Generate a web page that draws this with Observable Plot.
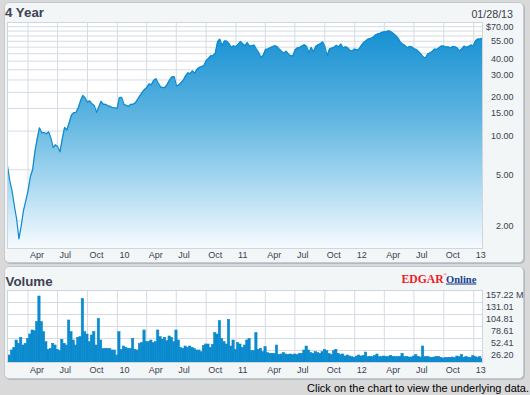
<!DOCTYPE html>
<html><head><meta charset="utf-8">
<script src="https://cdn.jsdelivr.net/npm/d3@7"></script>
<script src="https://cdn.jsdelivr.net/npm/@observablehq/plot@0.6"></script>
<style>
html,body{margin:0;padding:0;background:#d9d9d9;}
#page{position:relative;width:530px;height:395px;overflow:hidden;background:#d9d9d9;font-family:"Liberation Sans",Arial,sans-serif;}
.panel{position:absolute;background:#f3f6f6;border:1px solid #c3cad1;border-radius:5px;box-shadow:1px 1px 0 #b3b9c0;}
#pricePanel{left:4px;top:2px;width:518px;height:259px;}
#volPanel{left:4px;top:266px;width:518px;height:111px;}
.chart{position:absolute;left:0;}
#priceChart{top:0;}
#volChart{top:266px;}
#overlay{position:absolute;left:0;top:0;pointer-events:none;}
</style></head>
<body>
<svg width="0" height="0" style="position:absolute">
  <defs>
    <linearGradient id="pg" x1="0" y1="0" x2="0" y2="1">
      <stop offset="0" stop-color="#1590d2"/>
      <stop offset="0.4" stop-color="#5fb5e0"/>
      <stop offset="0.7" stop-color="#a8d8f0"/>
      <stop offset="1" stop-color="#f7fbfe"/>
    </linearGradient>
  </defs>
</svg>
<div id="page">
  <div class="panel" id="pricePanel"></div>
  <div class="panel" id="volPanel"></div>
  <div class="chart" id="priceChart"></div>
  <div class="chart" id="volChart"></div>
  <svg id="overlay" width="530" height="395">
    <text x="5" y="17" font-family="Liberation Sans, Arial, sans-serif" font-weight="bold" font-size="13.3" fill="#3d4354">4 Year</text>
    <text x="513" y="18" text-anchor="end" font-family="Liberation Sans, Arial, sans-serif" font-size="10.7" fill="#3a4050">01/28/13</text>
    <text x="5.5" y="286" font-family="Liberation Sans, Arial, sans-serif" font-weight="bold" font-size="13.3" fill="#3d4354">Volume</text>
    <text x="401.5" y="282.5" font-family="Liberation Serif, Times New Roman, serif" font-weight="bold" font-size="11.7" fill="#ee1c25">EDGAR</text>
    <text x="443.5" y="276" font-family="Liberation Serif, serif" font-size="4.5" fill="#ee1c25">®</text>
    <text x="446" y="282.5" font-family="Liberation Serif, Times New Roman, serif" font-weight="bold" font-size="10.5" fill="#1b3f8f" text-decoration="underline">Online</text>
    <text x="529" y="391.5" text-anchor="end" font-family="Liberation Sans, Arial, sans-serif" font-size="11" fill="#000">Click on the chart to view the underlying data.</text>
  </svg>
</div>
<script>
const startDate = "2009-01-28";
const endDate = "2013-01-28";

// weekly closing prices (USD)
const prices = [
  5.37, 4.10, 3.43, 2.62, 2.07, 1.45, 1.83, 2.40, 2.87, 3.43,
  4.41, 5.00, 6.90, 8.71, 10.6, 9.70, 9.75, 9.52, 9.87, 8.86,
  7.45, 7.82, 7.54, 6.90, 8.71, 10.7, 10.2, 11.6, 13.3, 13.9,
  13.95, 15.2, 17.2, 18.95, 18.1, 16.75, 17.2, 16.3, 15.85, 14.0,
  15.4, 17.05, 16.15, 16.15, 15.7, 15.55, 15.2, 15.2, 15.0, 18.2,
  18.3, 16.2, 15.85, 15.55, 16.15, 16.15, 16.6, 17.65, 18.8, 20.0,
  21.1, 21.8, 23.3, 22.9, 24.8, 25.6, 23.7, 22.1, 21.8, 21.9,
  23.2, 25.0, 26.4, 26.5, 22.5, 22.8, 23.8, 24.9, 26.9, 28.4,
  28.0, 29.4, 28.2, 30.3, 31.2, 31.8, 32.2, 35.2, 36.7, 38.5,
  38.6, 40.4, 49.5, 52.0, 46.1, 50.2, 50.2, 48.1, 44.8, 46.1,
  45.3, 47.2, 49.8, 47.8, 46.1, 48.9, 45.9, 46.1, 46.7, 43.5,
  40.8, 37.4, 38.9, 43.2, 43.5, 44.5, 45.3, 46.1, 45.6, 43.5,
  41.9, 40.4, 41.9, 39.9, 38.5, 38.5, 42.9, 44.5, 44.7, 45.9,
  47.0, 45.6, 40.8, 44.8, 41.4, 45.6, 47.0, 47.8, 49.5, 45.6,
  38.5, 43.5, 44.3, 44.8, 46.5, 45.1, 47.6, 44.3, 45.3, 44.5,
  42.4, 42.1, 43.5, 42.9, 43.5, 46.5, 49.0, 50.4, 52.0, 52.6,
  53.5, 55.6, 56.9, 57.6, 58.6, 59.3, 59.6, 60.3, 59.3, 57.6,
  55.6, 53.2, 49.5, 47.6, 46.5, 44.5, 45.6, 45.3, 43.7, 43.2,
  41.6, 39.9, 37.8, 36.9, 39.7, 40.6, 41.6, 43.5, 43.2, 44.5,
  45.9, 45.9, 45.1, 45.3, 44.3, 45.6, 45.3, 44.3, 42.1, 43.7,
  45.9, 44.8, 45.6, 46.7, 46.1, 50.4, 52.0, 52.0, 52.9
];

// weekly volume (millions of shares)
const volumes = [
  11.6, 15.3, 26.2, 32.0, 48.0, 40.8, 53.9, 37.1, 40.8, 51.7,
  61.1, 69.9, 68.4, 88.1, 144.1, 88.1, 66.2, 44.4, 27.7, 29.8,
  40.8, 37.1, 27.7, 24.7, 49.5, 40.8, 37.1, 91.7, 66.2, 48.0,
  37.1, 53.9, 55.3, 139.0, 66.2, 61.1, 44.4, 59.0, 66.2, 37.1,
  95.4, 48.0, 29.1, 29.8, 29.8, 29.1, 26.2, 26.2, 15.3, 66.2,
  27.7, 34.9, 32.0, 29.8, 29.8, 51.7, 27.7, 26.2, 40.8, 42.2,
  69.9, 44.4, 44.4, 48.0, 42.2, 44.4, 69.9, 55.3, 50.2, 53.9,
  46.6, 56.8, 53.9, 44.4, 69.9, 48.0, 32.0, 29.8, 34.9, 32.0,
  34.9, 32.0, 29.1, 26.2, 26.2, 22.6, 36.4, 39.3, 39.3, 32.0,
  38.6, 64.1, 61.1, 90.3, 51.7, 44.4, 39.3, 93.2, 34.9, 48.0,
  27.7, 42.2, 39.3, 32.0, 37.1, 48.0, 51.7, 24.7, 24.7, 64.1,
  27.7, 29.8, 22.6, 33.5, 20.4, 18.9, 18.9, 18.9, 37.1, 16.7,
  17.5, 20.4, 17.5, 16.7, 17.5, 16.0, 17.5, 16.0, 18.9, 18.9,
  26.2, 34.9, 26.2, 20.4, 18.9, 22.6, 20.4, 18.9, 22.6, 27.7,
  24.7, 18.9, 16.7, 24.7, 27.7, 18.9, 16.0, 17.5, 13.1, 15.3,
  13.1, 11.6, 10.2, 13.1, 15.3, 13.1, 14.6, 21.8, 11.6, 12.4,
  11.6, 14.6, 17.5, 11.6, 11.6, 13.1, 11.6, 12.4, 14.6, 12.4,
  11.6, 11.6, 12.4, 18.9, 11.6, 12.4, 10.9, 10.9, 13.1, 16.0,
  12.4, 10.9, 34.9, 11.6, 12.4, 10.9, 10.2, 10.9, 12.4, 11.6,
  10.2, 8.7, 10.2, 10.2, 10.2, 10.9, 9.5, 13.1, 11.6, 16.7,
  10.2, 12.4, 10.2, 10.2, 13.8, 11.6, 10.2, 11.6, 8.0
];

const priceGridTicks = [70, 65, 60, 55, 50, 45, 40, 35, 30, 25, 20, 15, 10, 5, 2];
const priceLabelTicks = [70, 55, 40, 30, 20, 15, 10, 5, 2];
const volTicks = [26.20, 52.41, 78.61, 104.81, 131.01, 157.22];
const quarterDates = ["2009-04-01","2009-07-01","2009-10-01","2010-01-01","2010-04-01","2010-07-01","2010-10-01","2011-01-01","2011-04-01","2011-07-01","2011-10-01","2012-01-01","2012-04-01","2012-07-01","2012-10-01","2013-01-01"];
const quarterLabels = ["Apr","Jul","Oct","10","Apr","Jul","Oct","11","Apr","Jul","Oct","12","Apr","Jul","Oct","13"];

const t0 = new Date(startDate), t1 = new Date(endDate);
const step = (t1 - t0) / (prices.length - 1);
const priceData = prices.map((p, i) => ({date: new Date(+t0 + i * step), price: p}));
const volData = volumes.map((v, i) => ({
  a: new Date(+t0 + (i - 0.5) * step), b: new Date(+t0 + (i + 0.5) * step), vol: v
}));
const qDates = quarterDates.map(s => new Date(s));

const gridColor = "#d6dbe3";
const textColor = "#3a4050";
const font = "Liberation Sans, Arial, sans-serif";
const yMin = 1.22;

const priceChart = Plot.plot({
  width: 530, height: 270,
  marginLeft: 7, marginRight: 48, marginTop: 22, marginBottom: 22,
  style: {background: "transparent", overflow: "visible", fontFamily: font},
  x: {type: "utc", domain: [t0, t1], axis: null},
  y: {type: "log", domain: [yMin, 70], axis: null},
  marks: [
    Plot.frame({fill: "white", stroke: "none"}),
    Plot.ruleY(priceGridTicks, {y: d => d, stroke: gridColor}),
    Plot.ruleX(qDates, {x: d => d, stroke: gridColor}),
    Plot.area(priceData, {x1: "date", y1: yMin, y2: "price", fill: "url(#pg)"}),
    Plot.line(priceData, {x: "date", y: "price", stroke: "#0b8bd0", strokeWidth: 1.2}),
    Plot.frame({stroke: "#cfd6dd"}),
    Plot.text(priceLabelTicks, {y: d => d, text: d => (d === 70 ? "$" : "") + d.toFixed(2),
      frameAnchor: "right", textAnchor: "end", dx: 31, dy: 5, fontSize: 9, fill: textColor}),
    Plot.text(qDates, {x: d => d, text: (d, i) => quarterLabels[i],
      frameAnchor: "bottom", textAnchor: "start", dx: 2, dy: 9.5, fontSize: 9, fill: textColor})
  ]
});
document.getElementById("priceChart").appendChild(priceChart);

const volChart = Plot.plot({
  width: 530, height: 115,
  marginLeft: 7, marginRight: 48, marginTop: 24, marginBottom: 19,
  style: {background: "transparent", overflow: "visible", fontFamily: font},
  x: {type: "utc", domain: [t0, t1], axis: null},
  y: {domain: [0, 157.22], axis: null},
  marks: [
    Plot.frame({fill: "white", stroke: "none"}),
    Plot.ruleY(volTicks, {y: d => d, stroke: gridColor}),
    Plot.ruleX(qDates, {x: d => d, stroke: gridColor}),
    Plot.rectY(volData, {x1: "a", x2: "b", y: "vol", fill: "#0b8ace", stroke: "#0b8ace", strokeWidth: 0.6, inset: 0, clip: true}),
    Plot.frame({stroke: "#cfd6dd"}),
    Plot.text(volTicks, {y: d => d, text: d => d.toFixed(2),
      frameAnchor: "right", textAnchor: "end", dx: 31, dy: 5, fontSize: 9, fill: textColor}),
    Plot.text([157.22], {y: d => d, text: d => "M",
      frameAnchor: "right", textAnchor: "start", dx: 33.5, dy: 5, fontSize: 9, fill: textColor}),
    Plot.text(qDates, {x: d => d, text: (d, i) => quarterLabels[i],
      frameAnchor: "bottom", textAnchor: "start", dx: 2, dy: 10, fontSize: 9, fill: textColor})
  ]
});
document.getElementById("volChart").appendChild(volChart);
</script>
</body></html>
